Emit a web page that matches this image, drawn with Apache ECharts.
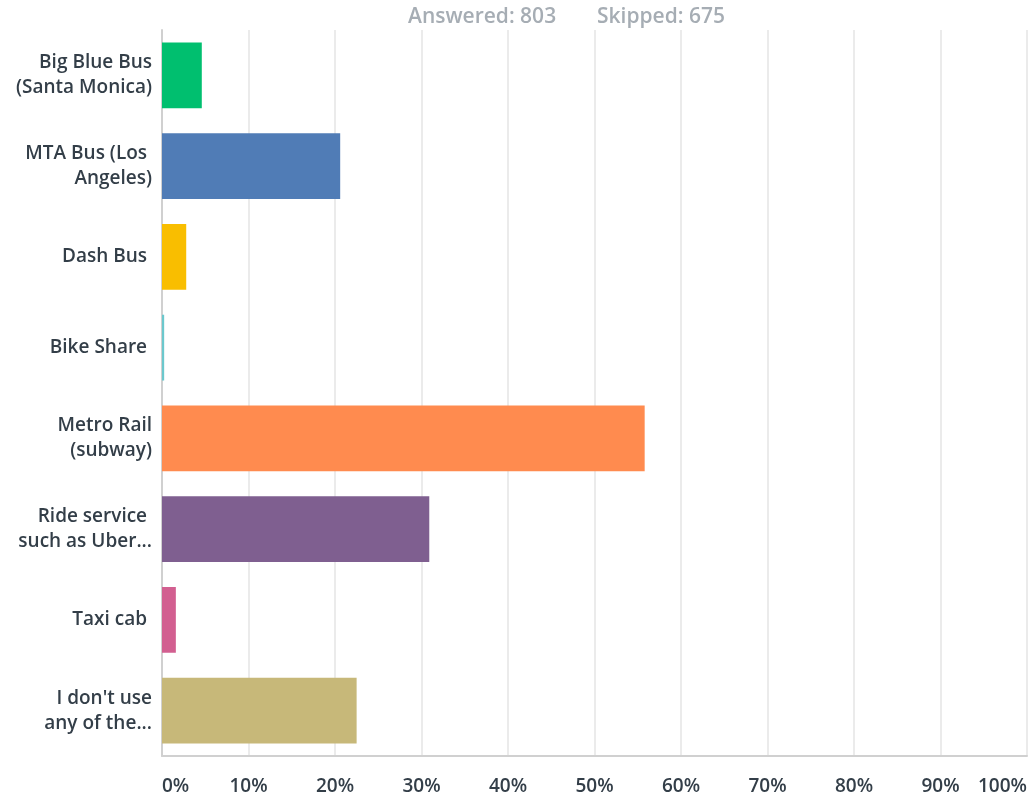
<!DOCTYPE html>
<html><head><meta charset="utf-8">
<script src="https://cdn.jsdelivr.net/npm/echarts@6/dist/echarts.min.js"></script>
<style>html,body{margin:0;padding:0;background:#fff}#c{width:1030px;height:797px}</style>
</head><body><div id="c"></div>
<script>
const categories = ["Big Blue Bus\n(Santa Monica)", "MTA Bus (Los \nAngeles)", "Dash Bus ", "Bike Share ", "Metro Rail\n(subway)", "Ride service \nsuch as Uber...", "Taxi cab ", "I don't use\nany of the..."];
const values = [4.6, 20.6, 2.8, 0.25, 55.8, 30.9, 1.6, 22.5];
const colors = ["#00bf6f", "#507cb6", "#f9be00", "#6bc8cd", "#ff8b4f", "#7f5f90", "#d25f90", "#c7b879"];
const tickLabels = ["0%", "10%", "20%", "30%", "40%", "50%", "60%", "70%", "80%", "90%", "100%"];
const answeredText = "Answered: 803";
const skippedText = "Skipped: 675";

const chart = echarts.init(document.getElementById('c'));
const font = "'Open Sans', sans-serif";
const titleStyle = {color: '#a6adb4', fontSize: 21, fontWeight: 600, fontFamily: font};
chart.setOption({
  animation: false,
  title: [
    {text: answeredText, left: 403, top: 2, textStyle: titleStyle},
    {text: skippedText, left: 592, top: 2, textStyle: titleStyle}
  ],
  grid: {left: 162, right: 2, top: 30, bottom: 41, containLabel: false},
  xAxis: {
    type: 'value', min: 0, max: 100, interval: 10,
    axisLine: {show: true, lineStyle: {color: '#d0d0d0', width: 2}},
    axisTick: {show: false},
    splitLine: {show: true, lineStyle: {color: '#ebebeb', width: 2}},
    axisLabel: {
      formatter: v => tickLabels[Math.round(v / 10)],
      color: '#333e48', fontSize: 19, fontWeight: 600, fontFamily: font, margin: 21,
      alignMinLabel: 'left', alignMaxLabel: 'right'
    }
  },
  yAxis: {
    type: 'category', data: categories, inverse: true,
    axisLine: {show: true, lineStyle: {color: '#d0d0d0', width: 2}},
    axisTick: {show: false},
    axisLabel: {
      color: '#333e48', fontSize: 19, fontWeight: 600, fontFamily: font,
      lineHeight: 25, margin: 10, align: 'right'
    }
  },
  series: [{
    type: 'bar',
    data: values.map((v, i) => ({value: v, itemStyle: {color: colors[i]}})),
    barCategoryGap: '27.5%'
  }]
});
</script></body></html>
